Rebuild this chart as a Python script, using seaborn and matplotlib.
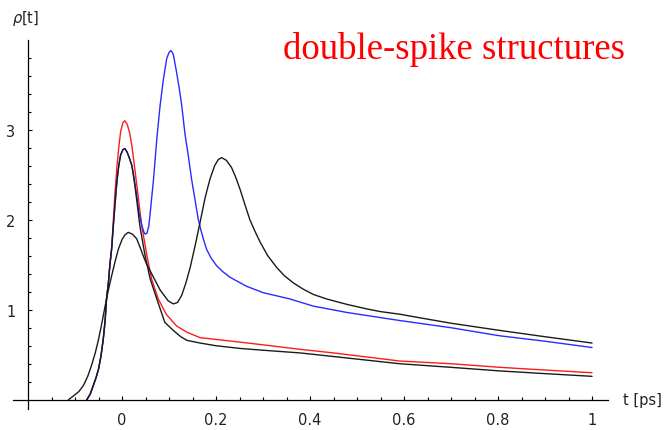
import numpy as np
import pandas as pd
import matplotlib
matplotlib.use("Agg")
import matplotlib.pyplot as plt
import seaborn as sns
from matplotlib.ticker import FixedLocator

# curve values (t in ps, rho)
tA = [-0.114, -0.104, -0.092, -0.082, -0.073, -0.065, -0.057, -0.050, -0.043, -0.036,
      -0.029, -0.022, -0.015, -0.008, 0.0, 0.006, 0.013, 0.022, 0.031, 0.038,
      0.045, 0.052, 0.060, 0.067, 0.074, 0.081, 0.088, 0.098, 0.109, 0.118,
      0.127, 0.136, 0.145, 0.155, 0.166, 0.177, 0.187, 0.197, 0.205, 0.212,
      0.222, 0.233, 0.242, 0.251, 0.262, 0.272, 0.283, 0.294, 0.310, 0.329,
      0.345, 0.364, 0.385, 0.407, 0.435, 0.478, 0.520, 0.549, 0.591, 0.634,
      0.700, 0.804, 0.900, 1.0]
rhoA = [0.0, 0.04, 0.09, 0.16, 0.26, 0.38, 0.52, 0.67, 0.85, 1.04,
        1.22, 1.38, 1.53, 1.67, 1.78, 1.83, 1.86, 1.84, 1.79, 1.70,
        1.60, 1.51, 1.43, 1.36, 1.29, 1.22, 1.17, 1.10, 1.065, 1.08,
        1.16, 1.30, 1.47, 1.70, 1.97, 2.25, 2.45, 2.60, 2.67, 2.69,
        2.66, 2.58, 2.47, 2.34, 2.16, 2.00, 1.87, 1.75, 1.60, 1.47,
        1.38, 1.30, 1.23, 1.17, 1.12, 1.06, 1.01, 0.98, 0.95, 0.91,
        0.85, 0.77, 0.70, 0.63]

tB = [-0.075, -0.068, -0.061, -0.055, -0.050, -0.045, -0.040, -0.036, -0.033, -0.029,
      -0.026, -0.022, -0.019, -0.015, -0.011, -0.007, -0.003, 0.002, 0.006, 0.011,
      0.016, 0.021, 0.026, 0.031, 0.038, 0.049, 0.060, 0.074, 0.091, 0.109,
      0.125, 0.138, 0.166, 0.200, 0.251, 0.300, 0.379, 0.450, 0.591, 0.700,
      0.804, 0.900, 1.0]
rhoB = [0.0, 0.06, 0.16, 0.25, 0.34, 0.48, 0.67, 0.88, 1.12, 1.30,
        1.49, 1.68, 1.90, 2.17, 2.42, 2.60, 2.72, 2.78, 2.79, 2.75,
        2.68, 2.60, 2.43, 2.23, 1.93, 1.60, 1.34, 1.12, 0.86, 0.77,
        0.70, 0.66, 0.63, 0.60, 0.57, 0.55, 0.52, 0.48, 0.40, 0.36,
        0.32, 0.29, 0.26]

tRed = [-0.075, -0.068, -0.061, -0.055, -0.050, -0.045, -0.040, -0.036, -0.033, -0.029,
        -0.026, -0.022, -0.019, -0.015, -0.011, -0.007, -0.003, 0.002, 0.006, 0.011,
        0.016, 0.021, 0.028, 0.035, 0.042, 0.053, 0.063, 0.077, 0.094, 0.116,
        0.138, 0.166, 0.200, 0.251, 0.300, 0.379, 0.450, 0.591, 0.700, 0.804,
        0.900, 1.0]
rhoRed = [0.0, 0.06, 0.16, 0.25, 0.34, 0.48, 0.67, 0.88, 1.12, 1.30,
          1.49, 1.70, 1.95, 2.30, 2.58, 2.80, 2.98, 3.08, 3.10, 3.06,
          2.97, 2.82, 2.53, 2.23, 1.93, 1.60, 1.34, 1.12, 0.95, 0.82,
          0.75, 0.69, 0.67, 0.64, 0.61, 0.56, 0.52, 0.43, 0.40, 0.36,
          0.33, 0.30]

tBlue = [-0.075, -0.068, -0.061, -0.055, -0.050, -0.045, -0.040, -0.036, -0.033, -0.029,
         -0.026, -0.022, -0.019, -0.015, -0.011, -0.007, -0.003, 0.002, 0.006, 0.011,
         0.016, 0.021, 0.026, 0.031, 0.036, 0.042, 0.046, 0.049, 0.053, 0.057,
         0.060, 0.067, 0.074, 0.081, 0.088, 0.095, 0.100, 0.104, 0.109, 0.116,
         0.122, 0.127, 0.134, 0.141, 0.148, 0.155, 0.162, 0.168, 0.174, 0.180,
         0.190, 0.201, 0.215, 0.230, 0.265, 0.300, 0.357, 0.407, 0.478, 0.591,
         0.700, 0.804, 0.900, 1.0]
rhoBlue = [0.0, 0.06, 0.16, 0.25, 0.34, 0.48, 0.67, 0.88, 1.12, 1.30,
           1.49, 1.68, 1.90, 2.17, 2.42, 2.60, 2.72, 2.78, 2.79, 2.75,
           2.68, 2.60, 2.45, 2.28, 2.08, 1.94, 1.87, 1.84, 1.85, 1.93,
           2.08, 2.45, 2.90, 3.27, 3.56, 3.79, 3.86, 3.88, 3.84, 3.64,
           3.45, 3.27, 2.95, 2.71, 2.45, 2.23, 2.01, 1.88, 1.77, 1.67,
           1.57, 1.49, 1.42, 1.36, 1.26, 1.19, 1.12, 1.04, 0.97, 0.88,
           0.80, 0.71, 0.65, 0.58]

xticks = [0, 0.2, 0.4, 0.6, 0.8, 1]
xtick_labels = ["0", "0.2", "0.4", "0.6", "0.8", "1"]
yticks = [1, 2, 3]
ytick_labels = ["1", "2", "3"]

sns.set_style("white")
plt.rcParams['font.family'] = ['DejaVu Sans']

fig = plt.figure(figsize=(6.66, 4.31), dpi=100)
ax = fig.add_axes([13 / 666, 21 / 431, 595 / 666, 369 / 431])

curves = [
    (tRed, rhoRed, "#ff1a1a"),
    (tBlue, rhoBlue, "#2a2aff"),
    (tA, rhoA, "#1a1a1a"),
    (tB, rhoB, "#1a1a1a"),
]
for t, rho, col in curves:
    df = pd.DataFrame({"t": t, "rho": rho})
    sns.lineplot(data=df, x="t", y="rho", color=col, linewidth=1.0,
                 sort=False, estimator=None, ax=ax)

ax.set_xlim(-0.232, 1.034)
ax.set_ylim(-0.103, 3.997)
ax.set_xlabel("")
ax.set_ylabel("")

for side in ["top", "right"]:
    ax.spines[side].set_visible(False)
ax.spines["left"].set_position(("data", -0.2))
ax.spines["bottom"].set_position(("data", 0))
for side in ["left", "bottom"]:
    ax.spines[side].set_color("black")
    ax.spines[side].set_linewidth(0.9)

ax.xaxis.set_major_locator(FixedLocator(xticks))
ax.set_xticklabels(xtick_labels)
ax.xaxis.set_minor_locator(FixedLocator(np.round(np.arange(-0.15, 1.0, 0.05), 3)))
ax.yaxis.set_major_locator(FixedLocator(yticks))
ax.set_yticklabels(ytick_labels)
ax.yaxis.set_minor_locator(FixedLocator(np.round(np.arange(0.2, 3.9, 0.2), 3)))

ax.tick_params(which="both", direction="in", color="black", width=0.8,
               bottom=True, left=True, labelsize=10.5, labelcolor="#222222")
ax.tick_params(which="major", length=3.2)
ax.tick_params(which="minor", length=2.0)
ax.tick_params(axis="x", which="major", pad=9)
ax.tick_params(axis="y", which="major", pad=9)

fig.text(12 / 666, 1 - 18.5 / 431, r"$\rho$[t]", fontsize=10.5, color="#222222",
         ha="left", va="center")
fig.text(623 / 666, 1 - 400.7 / 431, "t [ps]", fontsize=10.5, color="#222222",
         ha="left", va="center")
fig.text(283 / 666, 1 - 59 / 431, "double-spike structures", color="red",
         fontsize=26.5, family=["Liberation Serif"], ha="left", va="baseline")

fig.savefig("out.png", dpi=100)
